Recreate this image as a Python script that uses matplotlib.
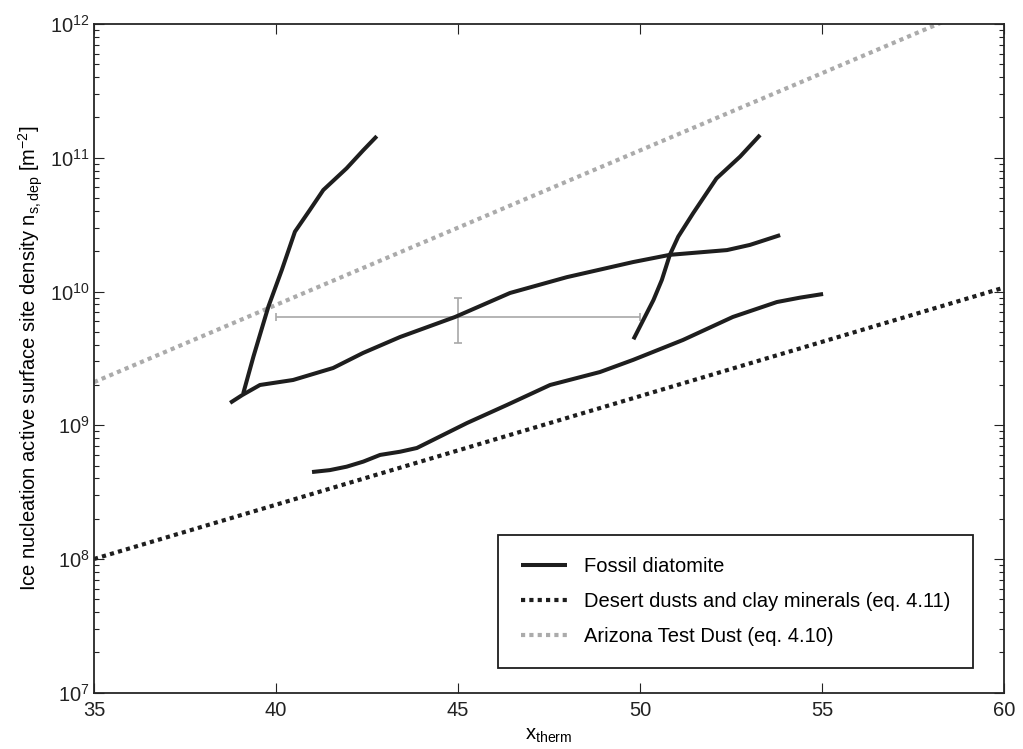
import numpy as np
import matplotlib
matplotlib.use('Agg')
import matplotlib.pyplot as plt

plt.rcParams['font.family'] = ['Liberation Sans', 'DejaVu Sans']
plt.rcParams['mathtext.fontset'] = 'custom'
plt.rcParams['mathtext.rm'] = 'Liberation Sans'
plt.rcParams['mathtext.it'] = 'Liberation Sans'
plt.rcParams['mathtext.default'] = 'regular'

# fossil diatomite runs (x_therm, n_s,dep in m^-2)
run1_x = [39.10, 39.38, 39.79, 40.16, 40.52, 40.93, 41.30, 41.94, 42.40, 42.77]
run1_y = [1.73e9, 3.26e9, 7.7e9, 1.45e10, 2.8e10, 4.07e10, 5.74e10, 8.34e10, 1.14e11, 1.45e11]

run2_x = [38.74, 39.07, 39.56, 40.47, 41.57, 42.39, 43.41, 44.92, 46.43, 47.99,
          49.81, 50.82, 52.39, 53.02, 53.30, 53.85]
run2_y = [1.47e9, 1.68e9, 2.0e9, 2.18e9, 2.68e9, 3.47e9, 4.57e9, 6.45e9, 9.75e9, 1.28e10,
          1.66e10, 1.88e10, 2.04e10, 2.23e10, 2.36e10, 2.64e10]

run3_x = [49.82, 50.37, 50.60, 50.82, 51.05, 51.46, 52.10, 52.75, 53.30]
run3_y = [4.39e9, 8.64e9, 1.22e10, 1.88e10, 2.57e10, 3.85e10, 7.0e10, 1.02e11, 1.48e11]

run4_x = [40.99, 41.48, 41.94, 42.40, 42.86, 43.41, 43.87, 45.25, 46.35, 47.53,
          48.90, 49.81, 51.18, 52.55, 53.76, 54.40, 55.03]
run4_y = [4.47e8, 4.62e8, 4.9e8, 5.35e8, 6.0e8, 6.34e8, 6.76e8, 1.04e9, 1.42e9, 2.0e9,
          2.5e9, 3.08e9, 4.34e9, 6.45e9, 8.34e9, 9.0e9, 9.58e9]

# parameterisations
dust_x = [35, 60]
dust_y = [1.0e8, 1.07e10]
atd_x = [35, 60]
atd_y = [2.1e9, 1.62e12]

# typical uncertainty
err_x = 45
err_y = 6.5e9
err_xerr = 5.0
err_ylo = 4.14e9
err_yhi = 8.9e9

black = '#1e1e1e'
grey = '#ababab'

fig = plt.figure(figsize=(10.23, 7.49), dpi=100)
ax = fig.add_axes([94 / 1023, 1 - 692.75 / 749, 910 / 1023, 668.75 / 749])

ax.plot(atd_x, atd_y, color=grey, lw=3.0, linestyle=(0, (1, 1)),
        label='Arizona Test Dust (eq. 4.10)', zorder=2)
ax.plot(dust_x, dust_y, color=black, lw=3.0, linestyle=(0, (1, 1)),
        label='Desert dusts and clay minerals (eq. 4.11)', zorder=2)

ax.errorbar(err_x, err_y, xerr=err_xerr,
            yerr=[[err_y - err_ylo], [err_yhi - err_y]],
            fmt='none', ecolor='#a8a8a8', elinewidth=1.2, capsize=3, capthick=1.2, zorder=3)

ax.plot(run1_x, run1_y, color=black, lw=2.9, solid_capstyle='butt',
        label='Fossil diatomite', zorder=4)
ax.plot(run2_x, run2_y, color=black, lw=2.9, solid_capstyle='butt', zorder=4)
ax.plot(run3_x, run3_y, color=black, lw=2.9, solid_capstyle='butt', zorder=4)
ax.plot(run4_x, run4_y, color=black, lw=2.9, solid_capstyle='butt', zorder=4)

ax.set_yscale('log')
ax.set_xlim(35, 60)
ax.set_ylim(1e7, 1e12)
ax.set_xticks([35, 40, 45, 50, 55, 60])
ax.xaxis.set_minor_locator(matplotlib.ticker.NullLocator())

ax.tick_params(which='both', direction='in', top=True, right=True,
               labelsize=14.5, colors='#222222', width=0.8)
ax.tick_params(which='major', length=7)
ax.tick_params(which='minor', length=3.5)
ax.tick_params(axis='x', pad=6)
ax.tick_params(axis='y', pad=3)
for s in ax.spines.values():
    s.set_linewidth(1.3)
    s.set_color('#262626')

ax.set_xlabel(r'$x_{therm}$', fontsize=14.5, labelpad=4)
ax.set_ylabel(r'Ice nucleation active surface site density n$_{s,dep}$ [m$^{-2}$]',
              fontsize=14.5, labelpad=4)

h, l = ax.get_legend_handles_labels()
order = [2, 1, 0]
leg = ax.legend([h[i] for i in order], [l[i] for i in order],
                loc='lower right', bbox_to_anchor=(0.9656, 0.0366),
                borderaxespad=0, fontsize=14.5, fancybox=False, framealpha=1,
                edgecolor='#1e1e1e', handlelength=2.33, handletextpad=0.83,
                labelspacing=0.8, borderpad=1.1)
leg.get_frame().set_linewidth(1.3)

plt.savefig('out.png', dpi=100)
